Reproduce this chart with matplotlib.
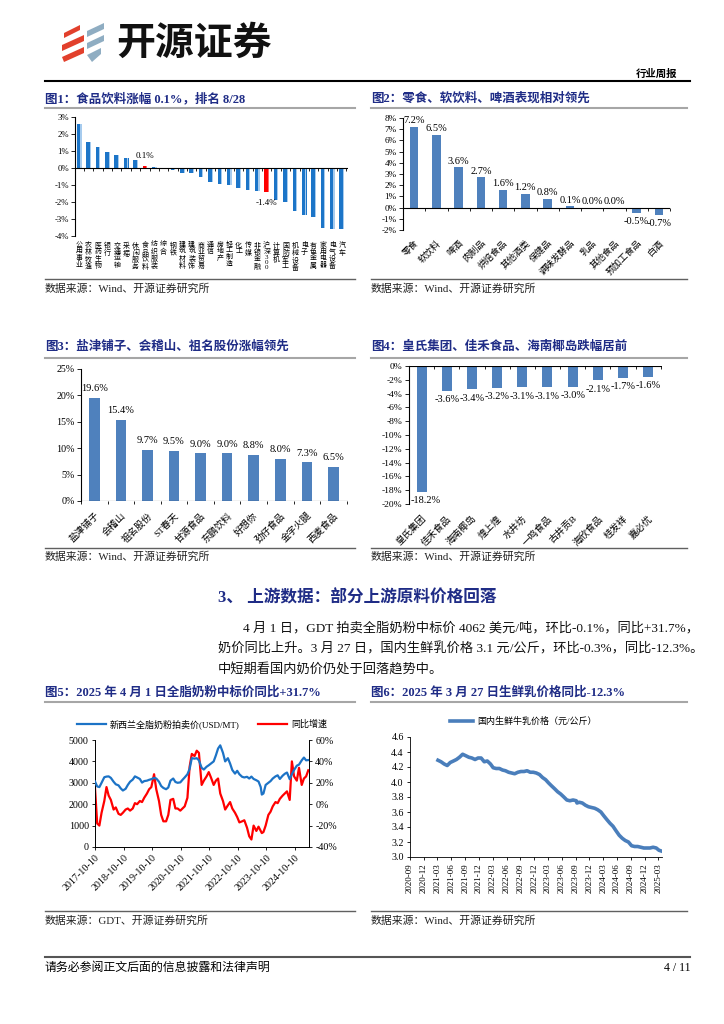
import matplotlib
matplotlib.use('Agg')
import matplotlib.pyplot as plt
from matplotlib.lines import Line2D
from matplotlib.patches import Polygon
from matplotlib.ticker import FuncFormatter
import matplotlib.dates as mdates
import numpy as np
import pandas as pd

plt.rcParams['font.family'] = ['Liberation Serif', 'Noto Sans CJK SC']
plt.rcParams['axes.unicode_minus'] = False

# ---------------- data ----------------
# 图1 申万行业周涨跌幅（%）
ind_names = ['公用事业', '农林牧渔', '医药生物', '银行', '交通运输', '采掘', '休闲服务',
             '食品饮料', '纺织服装', '综合', '钢铁', '建筑材料', '建筑装饰', '商业贸易',
             '通信', '房地产', '轻工制造', '化工', '传媒', '非银金融', '沪深300',
             '计算机', '国防军工', '机械设备', '电子', '有色金属', '家用电器', '电气设备', '汽车']
ind_chg = [2.57, 1.51, 1.22, 0.92, 0.76, 0.61, 0.49, 0.1, 0.05, -0.08, -0.14, -0.29, -0.29,
           -0.53, -0.8, -0.94, -1.0, -1.2, -1.29, -1.35, -1.4, -1.9, -2.0, -2.55, -2.75,
           -2.9, -3.5, -3.57, -3.6]

# 图2 食品饮料子板块涨跌幅（%）
sub_names = ['零食', '软饮料', '啤酒', '肉制品', '烘焙食品', '其他酒类', '保健品',
             '调味发酵品', '乳品', '其他食品', '预加工食品', '白酒']
sub_chg = [7.2, 6.5, 3.6, 2.7, 1.6, 1.2, 0.8, 0.1, 0.0, 0.0, -0.5, -0.7]

# 图3 涨幅前十
up_names = ['盐津铺子', '会稽山', '祖名股份', 'ST春天', '甘源食品', '东鹏饮料', '好想你',
            '劲仔食品', '金字火腿', '西麦食品']
up_chg = [19.6, 15.4, 9.7, 9.5, 9.0, 9.0, 8.8, 8.0, 7.3, 6.5]

# 图4 跌幅前十
dn_names = ['皇氏集团', '佳禾食品', '海南椰岛', '煌上煌', '水井坊', '一鸣食品', '古井贡B',
            '海欣食品', '桂发祥', '嘉必优']
dn_chg = [-18.2, -3.6, -3.4, -3.2, -3.1, -3.1, -3.0, -2.1, -1.7, -1.6]

# 图5 GDT 全脂奶粉拍卖价（USD/MT）及同比（%）
gdt_dates = ['2017-10-10', '2017-11-07', '2017-12-05', '2018-01-02', '2018-02-06', '2018-03-06',
             '2018-04-03', '2018-05-01', '2018-06-05', '2018-07-03', '2018-08-07', '2018-09-04',
             '2018-10-02', '2018-11-06', '2018-12-04', '2019-01-02', '2019-02-05', '2019-03-05',
             '2019-04-02', '2019-05-07', '2019-06-04', '2019-07-02', '2019-08-06', '2019-09-03',
             '2019-10-01', '2019-11-05', '2019-12-03', '2020-01-07', '2020-02-04', '2020-03-03',
             '2020-04-07', '2020-05-05', '2020-06-02', '2020-07-07', '2020-08-04', '2020-09-01',
             '2020-10-06', '2020-11-03', '2020-12-01', '2021-01-05', '2021-02-02', '2021-03-02',
             '2021-04-06', '2021-05-04', '2021-06-01', '2021-07-06', '2021-08-03', '2021-09-07',
             '2021-10-05', '2021-11-02', '2021-12-07', '2022-01-04', '2022-02-01', '2022-03-01',
             '2022-04-05', '2022-05-03', '2022-06-07', '2022-07-05', '2022-08-02', '2022-09-06',
             '2022-10-04', '2022-11-01', '2022-12-06', '2023-01-03', '2023-02-07', '2023-03-07',
             '2023-04-04', '2023-05-02', '2023-06-06', '2023-07-04', '2023-08-01', '2023-08-15',
             '2023-09-05', '2023-10-03', '2023-11-07', '2023-12-05', '2024-01-02', '2024-02-06',
             '2024-03-05', '2024-04-02', '2024-05-07', '2024-06-04', '2024-07-02', '2024-08-06',
             '2024-09-03', '2024-10-01', '2024-11-05', '2024-12-03', '2025-01-07', '2025-02-04',
             '2025-03-04', '2025-04-01']
gdt_price = [3060, 2830, 2800, 3000, 3260, 3290, 3300, 3230, 3050, 2930, 2880, 2740,
             2640, 2720, 2900, 3050, 3150, 3300, 3250, 3180, 3010, 3080, 3100, 3140,
             3170, 3230, 3200, 3050, 2850, 2760, 2700, 2780, 3100, 3200, 3040, 3000,
             3020, 3140, 3250, 3400, 3650, 4150, 4130, 4150, 4050, 3700, 3620, 3750,
             3820, 3900, 4000, 4280, 4600, 4750, 4400, 4000, 4150, 3900, 3600, 3430,
             3560, 3400, 3280, 3250, 3280, 3200, 3290, 3180, 3120, 3060, 2800, 2450,
             2500, 2900, 3000, 3080, 3200, 3300, 3350, 3180, 3330, 3420, 3480, 3170,
             3400, 3600, 3800, 3850, 4050, 4180, 4050, 4062]
gdt_yoy = [15, -18, -20, -8, 3, 16, 8, 4, -5, -3, -9, -10,
           -8, -5, -4, -6, -4, 1, 0, 3, 2, 6, 10, 14,
           16, 28, 14, 3, -10, -16, -16, -10, 4, 5, -4, -4,
           -6, -4, -2, 6, 35, 47, 45, 50, 48, 18, 22, 26,
           30, 25, 18, 22, 24, 10, 3, -5, -1, 2, -4, -8,
           -12, -17, -16, -15, -22, -30, -33, -20, -25, -21, -25, -27,
           -26, -20, -10, -7, -2, 2, 1, 5, 8, 10, 12, 4,
           40, 26, 22, 34, 18, 24, 26, 31.7]

# 图6 国内生鲜乳价格（元/公斤）
milk_dates = ['2021-03-05', '2021-03-25', '2021-04-15', '2021-05-05', '2021-05-25', '2021-06-15',
              '2021-07-05', '2021-07-25', '2021-08-15', '2021-09-05', '2021-09-25', '2021-10-15',
              '2021-11-05', '2021-11-25', '2021-12-15', '2022-01-05', '2022-01-25', '2022-02-15',
              '2022-03-05', '2022-03-25', '2022-04-15', '2022-05-05', '2022-05-25', '2022-06-15',
              '2022-07-05', '2022-07-25', '2022-08-15', '2022-09-05', '2022-09-25', '2022-10-15',
              '2022-11-05', '2022-11-25', '2022-12-15', '2023-01-05', '2023-01-25', '2023-02-15',
              '2023-03-05', '2023-03-25', '2023-04-15', '2023-05-05', '2023-05-25', '2023-06-15',
              '2023-07-05', '2023-07-25', '2023-08-15', '2023-09-05', '2023-09-10', '2023-09-25',
              '2023-10-15', '2023-11-05', '2023-11-25', '2023-12-15', '2024-01-05', '2024-01-25',
              '2024-02-15', '2024-03-05', '2024-03-25', '2024-04-15', '2024-05-05', '2024-05-25',
              '2024-06-15', '2024-07-05', '2024-07-25', '2024-08-15', '2024-09-05', '2024-09-25',
              '2024-10-15', '2024-11-05', '2024-11-25', '2024-12-15', '2025-01-05', '2025-01-25',
              '2025-02-15', '2025-03-05', '2025-03-20']
milk_price = [4.29, 4.27, 4.24, 4.22, 4.26, 4.28, 4.30, 4.33, 4.37, 4.35, 4.33, 4.32,
              4.30, 4.32, 4.32, 4.27, 4.28, 4.24, 4.19, 4.18, 4.18, 4.16, 4.15, 4.13,
              4.12, 4.11, 4.13, 4.14, 4.14, 4.15, 4.13, 4.13, 4.12, 4.10, 4.06, 4.03,
              3.99, 3.95, 3.91, 3.87, 3.84, 3.80, 3.76, 3.75, 3.76, 3.75, 3.72, 3.73,
              3.72, 3.69, 3.67, 3.66, 3.65, 3.63, 3.60, 3.55, 3.50, 3.45, 3.41, 3.35,
              3.29, 3.25, 3.22, 3.20, 3.15, 3.14, 3.14, 3.13, 3.12, 3.12, 3.12, 3.13,
              3.12, 3.09, 3.08]

# ---------------- page ----------------
fig = plt.figure(figsize=(7.24, 10.24), dpi=100)
W, H = 724.0, 1024.0
NAVY = '#1F2C86'
BAR = '#4F81BD'


def fx(x):
    return x / W


def fy(y):
    return 1 - y / H


def add_ax(x0, y0, x1, y1):
    return fig.add_axes([x0 / W, 1 - y1 / H, (x1 - x0) / W, (y1 - y0) / H])


def hline(x0, x1, y, color='#808080', lw=1.2):
    fig.add_artist(Line2D([fx(x0), fx(x1)], [fy(y), fy(y)], color=color, lw=lw,
                          transform=fig.transFigure))


def txt(x, y, s, **kw):
    fig.text(fx(x), fy(y), s, **kw)


def pct(v, p):
    return f'{v:.0f}%'


def style_bar_ax(ax, fs):
    for s in ['top', 'right', 'bottom']:
        ax.spines[s].set_visible(False)
    ax.spines['left'].set_linewidth(0.8)
    ax.tick_params(axis='y', direction='out', length=3, width=0.6, labelsize=fs, pad=1.5)
    ax.tick_params(axis='x', length=0)
    ax.yaxis.set_major_formatter(FuncFormatter(pct))
    ax.patch.set_alpha(0)


def zero_axis(ax, n, px_len, ax_px):
    ax.axhline(0, color='black', lw=0.8, zorder=3)
    y0, y1 = ax.get_ylim()
    t = (y1 - y0) * px_len / ax_px
    ax.vlines(np.arange(n + 1) - 0.5, -t, 0, color='black', lw=0.6, zorder=3, clip_on=False)


# header logo
red_strokes = [[(64, 33), (80, 25), (80, 30), (64, 38)],
               [(62, 45), (84, 35), (84, 41), (62, 51)],
               [(62, 57), (84, 47), (84, 53), (64, 62)]]
blue_strokes = [[(87, 31), (104, 23), (104, 29), (87, 37)],
                [(87, 43), (104, 35), (104, 41), (87, 49)],
                [(87, 55), (101, 48), (101, 54), (92, 62)]]
for pts in red_strokes:
    fig.add_artist(Polygon([(fx(a), fy(b)) for a, b in pts], closed=True,
                           transform=fig.transFigure, color='#E2402C', lw=0))
for pts in blue_strokes:
    fig.add_artist(Polygon([(fx(a), fy(b)) for a, b in pts], closed=True,
                           transform=fig.transFigure, color='#8FADC2', lw=0))
txt(116, 43, '开源证券', fontsize=28, fontweight='bold', color='#111111', va='center',
    family=['Noto Sans CJK SC'])
txt(677, 74, '行业周报', fontsize=7.5, fontweight='bold', ha='right', va='center')
hline(45, 690, 81, color='black', lw=1.5)

# figure titles / sources
titles = [(45, 99, '图1：食品饮料涨幅 0.1%，排名 8/28'),
          (371, 99, '图2：零食、软饮料、啤酒表现相对领先'),
          (45, 347, '图3：盐津铺子、会稽山、祖名股份涨幅领先'),
          (371, 347, '图4：皇氏集团、佳禾食品、海南椰岛跌幅居前'),
          (45, 693, '图5：2025 年 4 月 1 日全脂奶粉中标价同比+31.7%'),
          (371, 693, '图6：2025 年 3 月 27 日生鲜乳价格同比-12.3%')]
for x, y, s in titles:
    txt(x, y, s, fontsize=9, fontweight='bold', color=NAVY, va='center')
for y in (108, 358, 702):
    hline(45, 355, y, color='#A6A6A6', lw=1.5)
    hline(371, 687, y, color='#A6A6A6', lw=1.5)
sources = [(279, 289, 'Wind'), (548, 557, 'Wind'), (911, 921, 'GDT')]
for yl, yt, src in sources:
    hline(45, 355, yl, color='#606060', lw=1.0)
    txt(45, yt, f'数据来源：{src}、开源证券研究所', fontsize=7.8, va='center', color='#222222')
    hline(371, 687, yl, color='#606060', lw=1.0)
    txt(371, yt, '数据来源：Wind、开源证券研究所', fontsize=7.8, va='center', color='#222222')

# section text
txt(218, 598, '3、 上游数据：部分上游原料价格回落', fontsize=12, fontweight='bold',
    color=NAVY, va='center')
body = [(243, 628, '4 月 1 日，GDT 拍卖全脂奶粉中标价 4062 美元/吨，环比-0.1%，同比+31.7%，'),
        (218, 649, '奶价同比上升。3 月 27 日，国内生鲜乳价格 3.1 元/公斤，环比-0.3%，同比-12.3%。'),
        (218, 669, '中短期看国内奶价仍处于回落趋势中。')]
for x, y, s in body:
    txt(x, y, s, fontsize=9.5, va='center', color='#111111')

# footer
hline(45, 690, 957, color='#555555', lw=1.5)
txt(45, 968, '请务必参阅正文后面的信息披露和法律声明', fontsize=8.6, va='center')
txt(690, 968, '4 / 11', fontsize=8.5, va='center', ha='right')

# ---------------- 图1 ----------------
ax1 = add_ax(75, 117, 348, 236)
n1 = len(ind_names)
x1 = np.arange(n1)
hot = ('食品饮料', '沪深300')
c_main = ['#FF0000' if n in hot else '#1C75C8' for n in ind_names]
c_light = ['#FF6A6A' if n in hot else '#A6CBEE' for n in ind_names]
ax1.bar(x1, ind_chg, width=0.5, color=c_main, zorder=2)
ax1.bar(x1 + 0.18, ind_chg, width=0.12, color=c_light, zorder=2)
ax1.set_xlim(-0.46, n1 - 0.33)
ax1.set_ylim(-4, 3)
ax1.set_yticks(range(-4, 4))
style_bar_ax(ax1, 6.3)
zero_axis(ax1, n1, 3, 119)
vlabels = ['沪\n深\n3\n0\n0' if n == '沪深300' else '\n'.join(n) for n in ind_names]
ax1.set_xticks(x1)
ax1.set_xticklabels(vlabels, fontsize=5, linespacing=1.05)
ax1.tick_params(axis='x', pad=4)
i_fb = ind_names.index('食品饮料')
i_hs = ind_names.index('沪深300')
ax1.text(i_fb, ind_chg[i_fb] + 0.35, f'{ind_chg[i_fb]:.1f}%', ha='center', va='bottom', fontsize=6.5)
ax1.text(i_hs, ind_chg[i_hs] - 0.4, f'{ind_chg[i_hs]:.1f}%', ha='center', va='top', fontsize=6.5)

# ---------------- 图2 ----------------
ax2 = add_ax(403, 118, 670, 230)
x2 = np.arange(len(sub_names))
ax2.bar(x2, sub_chg, width=0.38, color=BAR, zorder=2)
ax2.set_xlim(-0.5, len(sub_names) - 0.5)
ax2.set_ylim(-2, 8)
ax2.set_yticks(range(-2, 9))
style_bar_ax(ax2, 6.6)
zero_axis(ax2, len(sub_names), 3, 112)
ax2.set_xticks(x2)
ax2.set_xticklabels(sub_names, fontsize=6.6, rotation=45, ha='right', rotation_mode='anchor')
ax2.tick_params(axis='x', pad=6)
for xi, v in zip(x2, sub_chg):
    if v >= 0:
        ax2.text(xi, v + 0.15, f'{v:.1f}%', ha='center', va='bottom', fontsize=7.5)
    else:
        ax2.text(xi, v - 0.3, f'{v:.1f}%', ha='center', va='top', fontsize=7.5)

# ---------------- 图3 ----------------
ax3 = add_ax(81, 369, 348, 501)
x3 = np.arange(len(up_names))
ax3.bar(x3, up_chg, width=0.4, color=BAR, zorder=2)
ax3.set_xlim(-0.5, len(up_names) - 0.45)
ax3.set_ylim(0, 25)
ax3.set_yticks(range(0, 26, 5))
style_bar_ax(ax3, 7.2)
zero_axis(ax3, len(up_names), 3, 132)
ax3.set_xticks(x3)
ax3.set_xticklabels(up_names, fontsize=6.8, rotation=45, ha='right', rotation_mode='anchor')
ax3.tick_params(axis='x', pad=7)
for xi, v in zip(x3, up_chg):
    ax3.text(xi, v + 0.9, f'{v:.1f}%', ha='center', va='bottom', fontsize=7.5)

# ---------------- 图4 ----------------
ax4 = add_ax(409, 366, 662, 504)
x4 = np.arange(len(dn_names))
ax4.bar(x4, dn_chg, width=0.4, color=BAR, zorder=2)
ax4.set_xlim(-0.5, len(dn_names) - 0.45)
ax4.set_ylim(-20, 0)
ax4.set_yticks(range(-20, 1, 2))
style_bar_ax(ax4, 6.8)
zero_axis(ax4, len(dn_names), 3, 138)
ax4.set_xticks(x4)
ax4.set_xticklabels(dn_names, fontsize=6.8, rotation=45, ha='right', rotation_mode='anchor')
ax4.tick_params(axis='x', pad=7)
for xi, v in zip(x4, dn_chg):
    ax4.text(xi + (0.15 if v < -10 else 0), v - 0.6, f'{v:.1f}%', ha='center', va='top', fontsize=7.5)

# ---------------- 图5 ----------------
ax5 = add_ax(95, 740, 309, 847)
d5 = pd.to_datetime(gdt_dates)
l1, = ax5.plot(d5, gdt_price, color='#1C73C6', lw=1.6, label='新西兰全脂奶粉拍卖价(USD/MT)', zorder=3)
ax5b = ax5.twinx()
l2, = ax5b.plot(d5, gdt_yoy, color='#FF0000', lw=1.6, label='同比增速', zorder=2)
ax5.set_zorder(ax5b.get_zorder() + 1)
ax5.patch.set_visible(False)
ax5.set_ylim(0, 5000)
ax5.set_yticks(range(0, 5001, 1000))
ax5b.set_ylim(-40, 60)
ax5b.set_yticks(range(-40, 61, 20))
ax5b.yaxis.set_major_formatter(FuncFormatter(pct))
ax5.set_xlim(pd.Timestamp('2017-10-10'), pd.Timestamp('2025-04-10'))
ax5.set_xticks(pd.to_datetime(['2017-10-10', '2018-10-10', '2019-10-10', '2020-10-10',
                               '2021-10-10', '2022-10-10', '2023-10-10', '2024-10-10']))
ax5.xaxis.set_major_formatter(mdates.DateFormatter('%Y-%m-%d'))
for lbl in ax5.get_xticklabels():
    lbl.set_rotation(45)
    lbl.set_ha('right')
    lbl.set_rotation_mode('anchor')
for a in (ax5, ax5b):
    a.spines['top'].set_visible(False)
    for s in a.spines.values():
        s.set_linewidth(0.6)
    a.tick_params(direction='out', length=2.5, width=0.6, labelsize=7.2, pad=2)
ax5.tick_params(axis='x', labelsize=7.2, pad=2)
ax5.legend(handles=[l1, l2], loc='lower center', bbox_to_anchor=(0.5, 1.07), ncol=2,
           frameon=False, fontsize=6.5, handlelength=3.2, columnspacing=2.0, handletextpad=0.5,
           borderaxespad=0)

# ---------------- 图6 ----------------
ax6 = add_ax(410, 737, 662, 857)
d6 = pd.to_datetime(milk_dates)
l6, = ax6.plot(d6, milk_price, color='#4A7EBB', lw=2.6, label='国内生鲜牛乳价格（元/公斤）')
ax6.set_ylim(3.0, 4.6)
ax6.set_yticks(np.arange(3.0, 4.61, 0.2))
ax6.yaxis.set_major_formatter(FuncFormatter(lambda v, p: f'{v:.1f}'))
ax6.set_xlim(pd.Timestamp('2020-09-01'), pd.Timestamp('2025-03-25'))
ax6.set_xticks(pd.date_range('2020-09-01', '2025-03-01', freq='3MS'))
ax6.xaxis.set_major_formatter(mdates.DateFormatter('%Y-%m'))
for lbl in ax6.get_xticklabels():
    lbl.set_rotation(90)
ax6.spines['top'].set_visible(False)
ax6.spines['right'].set_visible(False)
for s in ax6.spines.values():
    s.set_linewidth(0.6)
ax6.tick_params(direction='out', length=2.5, width=0.6, labelsize=7.2, pad=2)
ax6.tick_params(axis='x', labelsize=6.5)
ax6.legend(handles=[l6], loc='lower center', bbox_to_anchor=(0.45, 1.06), frameon=False,
           fontsize=6.5, handlelength=2.6, handletextpad=0.5, borderaxespad=0)

fig.savefig('out.png', dpi=100)
